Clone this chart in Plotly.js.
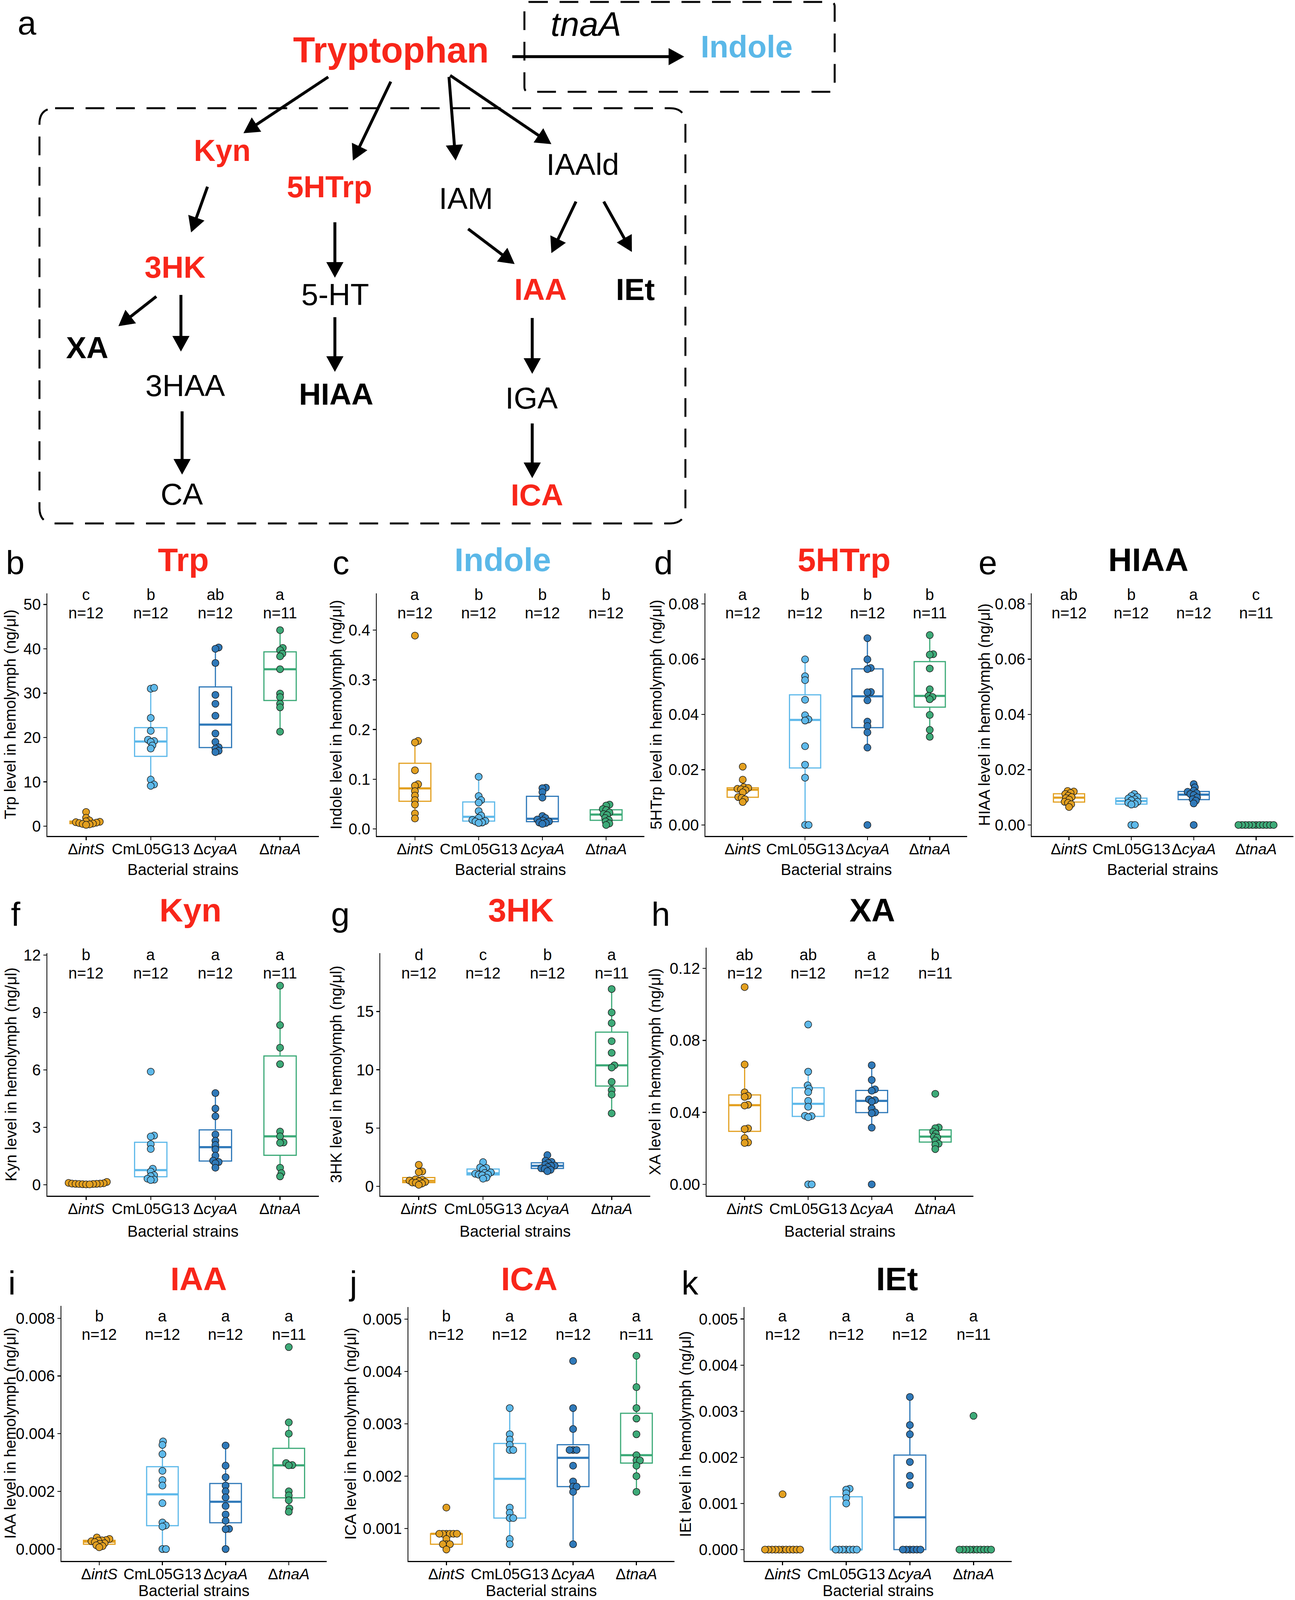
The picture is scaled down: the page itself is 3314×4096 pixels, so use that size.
<!DOCTYPE html>
<html><head><meta charset="utf-8">
<script src="https://cdn.plot.ly/plotly-3.0.1.min.js"></script>
<style>html,body{margin:0;padding:0;background:#fff}#chart{width:3314px;height:4096px}</style>
</head><body><div id="chart"></div>
<script>
// ---------------- DATA ----------------
const strainTicks = ['Δ<i>intS</i>', 'CmL05G13', 'Δ<i>cyaA</i>', 'Δ<i>tnaA</i>'];

// each metabolite: [ΔintS, CmL05G13, ΔcyaA, ΔtnaA]
const trp = [
  [3.2, 1.9, 1.3, 1.1, 1.0, 0.9, 0.8, 0.7, 0.6, 0.5, 0.4, 0.3],
  [31.0, 31.2, 24.4, 21.5, 19.5, 19.2, 19.0, 18.2, 17.5, 10.5, 9.4, 9.1],
  [40.3, 40.0, 36.8, 29.6, 27.6, 24.9, 20.9, 19.0, 17.8, 17.5, 17.0, 16.7],
  [44.2, 40.2, 39.7, 38.9, 38.3, 35.4, 29.9, 29.1, 27.6, 26.8, 21.3]
];
const trpLetters = ['c', 'b', 'ab', 'a'];

const indole = [
  [0.389, 0.177, 0.174, 0.118, 0.090, 0.087, 0.076, 0.067, 0.058, 0.049, 0.031, 0.021],
  [0.105, 0.066, 0.058, 0.053, 0.036, 0.027, 0.022, 0.018, 0.016, 0.015, 0.013, 0.012],
  [0.083, 0.082, 0.074, 0.063, 0.026, 0.022, 0.019, 0.017, 0.015, 0.013, 0.012, 0.010],
  [0.049, 0.047, 0.040, 0.038, 0.033, 0.030, 0.028, 0.022, 0.018, 0.015, 0.011, 0.008]
];
const indoleLetters = ['a', 'b', 'b', 'b'];

const htrp = [
  [0.0211, 0.0164, 0.0137, 0.0134, 0.0131, 0.0129, 0.0126, 0.0118, 0.0101, 0.0098, 0.0093, 0.0083],
  [0.0599, 0.0538, 0.0524, 0.0453, 0.0397, 0.0382, 0.0378, 0.0285, 0.0218, 0.0171, 0, 0],
  [0.0676, 0.0599, 0.0568, 0.0564, 0.0481, 0.0480, 0.0451, 0.0374, 0.0358, 0.0335, 0.0280, 0],
  [0.0687, 0.0618, 0.0616, 0.0566, 0.0491, 0.0467, 0.0463, 0.0455, 0.0398, 0.0344, 0.0319]
];
const htrpLetters = ['a', 'b', 'b', 'b'];

const hiaa = [
  [0.0123, 0.0121, 0.0116, 0.0112, 0.0106, 0.0101, 0.0097, 0.0092, 0.0084, 0.0080, 0.0075, 0.0065],
  [0.0112, 0.0105, 0.0101, 0.0096, 0.0093, 0.0089, 0.0084, 0.0080, 0.0076, 0.0074, 0, 0],
  [0.0148, 0.0136, 0.0124, 0.0120, 0.0115, 0.0112, 0.0108, 0.0100, 0.0093, 0.0088, 0.0078, 0],
  [0, 0, 0, 0, 0, 0, 0, 0, 0, 0, 0]
];
const hiaaLetters = ['ab', 'b', 'a', 'c'];

const kyn = [
  [0.15, 0.10, 0.08, 0.06, 0.06, 0.05, 0.05, 0.04, 0.04, 0.03, 0.02, 0.02],
  [5.91, 2.57, 2.52, 2.12, 1.87, 0.84, 0.69, 0.50, 0.45, 0.32, 0.27, 0.25],
  [4.79, 3.98, 3.58, 2.63, 2.30, 2.08, 1.85, 1.52, 1.26, 1.19, 1.12, 0.89],
  [10.4, 8.34, 7.16, 6.30, 2.78, 2.53, 2.21, 2.19, 0.89, 0.61, 0.44]
];
const kynLetters = ['b', 'a', 'a', 'a'];

const hk = [
  [1.85, 1.28, 1.22, 0.60, 0.56, 0.50, 0.44, 0.38, 0.33, 0.30, 0.25, 0.13],
  [2.08, 1.62, 1.58, 1.45, 1.20, 1.15, 1.08, 1.02, 1.00, 0.95, 0.75, 0.66],
  [2.68, 2.20, 2.10, 2.00, 1.85, 1.78, 1.75, 1.65, 1.55, 1.50, 1.42, 1.30],
  [16.92, 14.91, 14.0, 12.45, 11.45, 10.38, 10.19, 8.96, 8.25, 7.87, 6.26]
];
const hkLetters = ['d', 'c', 'b', 'a'];

const xa = [
  [0.1096, 0.0666, 0.0511, 0.0492, 0.0486, 0.0442, 0.0438, 0.0311, 0.0307, 0.0257, 0.0233, 0.0230],
  [0.0888, 0.0626, 0.0550, 0.0532, 0.0513, 0.0464, 0.0431, 0.0381, 0.0379, 0.0373, 0, 0],
  [0.0662, 0.0580, 0.0528, 0.0520, 0.0472, 0.0468, 0.0460, 0.0422, 0.0400, 0.0395, 0.0315, 0],
  [0.0503, 0.0316, 0.0312, 0.0293, 0.0281, 0.0265, 0.0260, 0.0244, 0.0226, 0.0220, 0.0196]
];
const xaLetters = ['ab', 'ab', 'a', 'b'];

const iaa = [
  [0.00040, 0.00035, 0.00031, 0.00030, 0.00029, 0.00027, 0.00024, 0.00020, 0.00018, 0.00013, 0.00010, 0.00006],
  [0.00373, 0.00361, 0.00329, 0.00271, 0.00239, 0.00220, 0.00159, 0.00092, 0.00082, 0.00078, 0, 0],
  [0.00359, 0.00289, 0.00249, 0.00220, 0.00200, 0.00179, 0.00149, 0.00120, 0.00098, 0.00070, 0.00069, 0],
  [0.00700, 0.00439, 0.00400, 0.00298, 0.00291, 0.00290, 0.00200, 0.00186, 0.00169, 0.00141, 0.00129]
];
const iaaLetters = ['b', 'a', 'a', 'a'];

const ica = [
  [0.0014, 0.0009, 0.0009, 0.0009, 0.0009, 0.0009, 0.0009, 0.0008, 0.0007, 0.0007, 0.0007, 0.0006],
  [0.0033, 0.0028, 0.0027, 0.0026, 0.0025, 0.0025, 0.0014, 0.0013, 0.0012, 0.0012, 0.0008, 0.0007],
  [0.0042, 0.0033, 0.0029, 0.0025, 0.0025, 0.0025, 0.0022, 0.0019, 0.0018, 0.0018, 0.0017, 0.0007],
  [0.0043, 0.0037, 0.0033, 0.0031, 0.0028, 0.0024, 0.0023, 0.0023, 0.0022, 0.0020, 0.0017]
];
const icaLetters = ['b', 'a', 'a', 'a'];

const iet = [
  [0.0012, 0, 0, 0, 0, 0, 0, 0, 0, 0, 0, 0],
  [0.00132, 0.00130, 0.00122, 0.00112, 0.00100, 0, 0, 0, 0, 0, 0, 0],
  [0.00331, 0.00270, 0.00250, 0.00190, 0.00160, 0.00140, 0, 0, 0, 0, 0, 0],
  [0.0029, 0, 0, 0, 0, 0, 0, 0, 0, 0, 0]
];
const ietLetters = ['a', 'a', 'a', 'a'];

// ---------------- STYLE / LAYOUT ----------------
const W = 3314, H = 4096;
const FONT = 'Liberation Sans, Arial, Helvetica, sans-serif';
const RED = '#F8261A', SKY = '#5BB8E8';
const COLORS = ['#E3A020', '#5EB9EA', '#2F79B9', '#3DAA78'];
const X = px => px / W;
const Y = py => 1 - py / H;

const rows = {
  r1: {yBot: 2140, letterBase: 1470, titleBase: 1462, xTitleY: 2226},
  r2: {yBot: 3061, letterBase: 2370, titleBase: 2359, xTitleY: 3152},
  r3: {yBot: 3996, letterBase: 3314, titleBase: 3303, xTitleY: 4072}
};

const panels = [
  {L:'b', title:'Trp', tc:RED, data:trp, sig:trpLetters, yt:'Trp level in hemolymph (ng/μl)', row:'r1', x0:121, x1:816, yTop:1519, yr:[-2.2,52.5], tv:[0,10,20,30,40,50], fmt:'', lx:39, tx:470, ytx:25, sigY:1522, nY:1569},
  {L:'c', title:'Indole', tc:SKY, data:indole, sig:indoleLetters, yt:'Indole level in hemolymph (ng/μl)', row:'r1', x0:964, x1:1649, yTop:1519, yr:[-0.0141,0.474], tv:[0,0.1,0.2,0.3,0.4], fmt:'.1f', lx:872, tx:1286, ytx:859, sigY:1522, nY:1569},
  {L:'d', title:'5HTrp', tc:RED, data:htrp, sig:htrpLetters, yt:'5HTrp level in hemolymph (ng/μl)', row:'r1', x0:1805, x1:2475, yTop:1519, yr:[-0.00396,0.0838], tv:[0,0.02,0.04,0.06,0.08], fmt:'.2f', lx:1698, tx:2160, ytx:1678, sigY:1522, nY:1569},
  {L:'e', title:'HIAA', tc:'#000', data:hiaa, sig:hiaaLetters, yt:'HIAA level in hemolymph (ng/μl)', row:'r1', x0:2640, x1:3310, yTop:1519, yr:[-0.00396,0.0838], tv:[0,0.02,0.04,0.06,0.08], fmt:'.2f', lx:2528, tx:2938, ytx:2518, sigY:1522, nY:1569},
  {L:'f', title:'Kyn', tc:RED, data:kyn, sig:kynLetters, yt:'Kyn level in hemolymph (ng/μl)', row:'r2', x0:121, x1:816, yTop:2440, yr:[-0.57,12.1], tv:[0,3,6,9,12], fmt:'', lx:40, tx:487, ytx:27, sigY:2444, nY:2491},
  {L:'g', title:'3HK', tc:RED, data:hk, sig:hkLetters, yt:'3HK level in hemolymph (ng/μl)', row:'r2', x0:973, x1:1664, yTop:2440, yr:[-0.8,20.0], tv:[0,5,10,15], fmt:'', lx:871, tx:1333, ytx:859, sigY:2444, nY:2491},
  {L:'h', title:'XA', tc:'#000', data:xa, sig:xaLetters, yt:'XA level in hemolymph (ng/μl)', row:'r2', x0:1808, x1:2491, yTop:2426, yr:[-0.0063,0.1315], tv:[0,0.04,0.08,0.12], fmt:'.2f', lx:1691, tx:2232, ytx:1675, sigY:2444, nY:2491},
  {L:'i', title:'IAA', tc:RED, data:iaa, sig:iaaLetters, yt:'IAA level in hemolymph (ng/μl)', row:'r3', x0:157, x1:836, yTop:3343, yr:[-0.000413,0.00843], tv:[0,0.002,0.004,0.006,0.008], fmt:'.3f', lx:31, tx:508, ytx:25, sigY:3369, nY:3416},
  {L:'j', title:'ICA', tc:RED, data:ica, sig:icaLetters, yt:'ICA level in hemolymph (ng/μl)', row:'r3', x0:1045, x1:1726, yTop:3346, yr:[0.000381,0.00523], tv:[0.001,0.002,0.003,0.004,0.005], fmt:'.3f', lx:903, tx:1354, ytx:897, sigY:3369, nY:3416},
  {L:'k', title:'IEt', tc:'#000', data:iet, sig:ietLetters, yt:'IEt level in hemolymph (ng/μl)', row:'r3', x0:1905, x1:2589, yTop:3346, yr:[-0.000246,0.00526], tv:[0,0.001,0.002,0.003,0.004,0.005], fmt:'.3f', lx:1766, tx:2295, ytx:1754, sigY:3369, nY:3416}
];

// ---------------- helpers ----------------
function quant(sorted, p) {
  const h = (sorted.length - 1) * p, lo = Math.floor(h), hi = Math.ceil(h);
  return sorted[lo] + (h - lo) * (sorted[hi] - sorted[lo]);
}
function boxStats(vals) {
  const s = vals.slice().sort((a, b) => a - b);
  const q1 = quant(s, 0.25), med = quant(s, 0.5), q3 = quant(s, 0.75), iqr = q3 - q1;
  const lf = Math.min(...s.filter(v => v >= q1 - 1.5 * iqr));
  const uf = Math.max(...s.filter(v => v <= q3 + 1.5 * iqr));
  return {q1, med, q3, lf: Math.min(lf, q1), uf: Math.max(uf, q3)};
}
function swarm(vals, pxPerY, d) {
  const idx = vals.map((v, i) => i).sort((a, b) => vals[a] - vals[b]);
  const placed = [], off = new Array(vals.length);
  for (const i of idx) {
    const y = vals[i] * pxPerY;
    const cands = [0];
    for (const p of placed) {
      const dy = Math.abs(p.y - y);
      if (dy < d) { const dx = Math.sqrt(d * d - dy * dy); cands.push(p.x + dx, p.x - dx); }
    }
    cands.sort((a, b) => Math.abs(a) - Math.abs(b) || b - a);
    let chosen = 0;
    for (const c of cands) {
      let ok = true;
      for (const p of placed) { if (Math.hypot(p.x - c, p.y - y) < d - 1e-6) { ok = false; break; } }
      if (ok) { chosen = c; break; }
    }
    placed.push({x: chosen, y}); off[i] = chosen;
  }
  return off;
}

const traces = [], annotations = [], shapes = [];
const layout = {
  width: W, height: H, margin: {l: 0, r: 0, t: 0, b: 0},
  paper_bgcolor: '#fff', plot_bgcolor: 'rgba(0,0,0,0)', showlegend: false,
  font: {family: FONT, color: '#000'}
};
function ann(o) { annotations.push(Object.assign({showarrow: false, xref: 'paper', yref: 'paper', xanchor: 'center', yanchor: 'middle'}, o)); }

panels.forEach((P, k) => {
  const n = k + 1, suf = n === 1 ? '' : String(n);
  const xref = 'x' + suf, yref = 'y' + suf;
  const R = rows[P.row];
  const yBot = R.yBot;
  layout['xaxis' + suf] = {
    domain: [X(P.x0), X(P.x1)], anchor: yref, range: [-0.6, 3.6],
    tickvals: [0, 1, 2, 3], ticktext: strainTicks, tickangle: 0, ticklabelstandoff: -10,
    ticks: 'outside', ticklen: 8, tickwidth: 2.5, tickcolor: '#000',
    showline: true, linecolor: '#000', linewidth: 2.5, showgrid: false, zeroline: false,
    tickfont: {size: 39, family: FONT, color: '#000'}, fixedrange: true
  };
  layout['yaxis' + suf] = {
    domain: [Y(yBot), Y(P.yTop)], anchor: xref, range: P.yr,
    tickvals: P.tv, tickformat: P.fmt, ticklabelstandoff: -2,
    ticks: 'outside', ticklen: 8, tickwidth: 2.5, tickcolor: '#000',
    showline: true, linecolor: '#000', linewidth: 2.5, showgrid: false, zeroline: false,
    tickfont: {size: 40, family: FONT, color: '#000'}, fixedrange: true
  };
  const pxPerX = (P.x1 - P.x0) / 4.2;
  const pxPerY = (yBot - P.yTop) / (P.yr[1] - P.yr[0]);
  P.data.forEach((vals, g) => {
    const s = boxStats(vals);
    traces.push({type: 'box', x: [g], q1: [s.q1], median: [s.med], q3: [s.q3], lowerfence: [s.lf], upperfence: [s.uf],
      width: 0.5, whiskerwidth: 0, boxpoints: false, line: {color: COLORS[g], width: 3}, fillcolor: 'rgba(255,255,255,0)',
      xaxis: xref, yaxis: yref, hoverinfo: 'skip'});
    traces.push({type: 'scatter', mode: 'lines', x: [g - 0.25, g + 0.25], y: [s.med, s.med],
      line: {color: COLORS[g], width: 5.5}, xaxis: xref, yaxis: yref, hoverinfo: 'skip', cliponaxis: false});
  });
  P.data.forEach((vals, g) => {
    const off = swarm(vals, pxPerY, 9);
    traces.push({type: 'scatter', mode: 'markers', x: vals.map((v, i) => g + off[i] / pxPerX), y: vals,
      marker: {size: 18, color: COLORS[g], line: {color: '#1a1a1a', width: 1.5}}, xaxis: xref, yaxis: yref,
      hoverinfo: 'skip', cliponaxis: false});
    ann({xref: xref, x: g, y: Y(P.sigY), text: P.sig[g], font: {size: 40, family: FONT, color: '#000'}});
    ann({xref: xref, x: g, y: Y(P.nY), text: 'n=' + vals.length, font: {size: 40, family: FONT, color: '#000'}});
  });
  // panel letter, title, axis titles
  ann({x: X(P.lx), y: Y(R.letterBase - 0.35 * 86), text: P.L, font: {size: 86, family: FONT, color: '#000'}});
  ann({x: X(P.tx), y: Y(R.titleBase - 0.35 * 84), text: '<b>' + P.title + '</b>', font: {size: 84, family: FONT, color: P.tc}});
  ann({x: X(P.ytx), y: Y((P.yTop + yBot) / 2), text: P.yt, textangle: -90, font: {size: 40, family: FONT, color: '#000'}});
  ann({x: X((P.x0 + P.x1) / 2), y: Y(R.xTitleY), text: 'Bacterial strains', font: {size: 40, family: FONT, color: '#000'}});
});

// ---------------- panel a: pathway diagram ----------------
const diagLabels = [
  // text, x, baseline, color, size, style
  ['a', 69, 88, '#000', 86, ''],
  ['Tryptophan', 1000, 160, RED, 92, 'b'],
  ['tnaA', 1499, 92, '#000', 88, 'i'],
  ['Indole', 1911, 147, SKY, 80, 'b'],
  ['Kyn', 568, 412, RED, 77, 'b'],
  ['5HTrp', 843, 505, RED, 77, 'b'],
  ['IAM', 1192, 535, '#000', 78, ''],
  ['IAAld', 1491, 448, '#000', 78, ''],
  ['3HK', 448, 711, RED, 78, 'b'],
  ['5-HT', 857, 781, '#000', 78, ''],
  ['IAA', 1383, 768, RED, 78, 'b'],
  ['IEt', 1626, 768, '#000', 78, 'b'],
  ['XA', 223, 917, '#000', 78, 'b'],
  ['3HAA', 474, 1014, '#000', 78, ''],
  ['HIAA', 861, 1036, '#000', 78, 'b'],
  ['IGA', 1360, 1046, '#000', 78, ''],
  ['CA', 465, 1292, '#000', 78, ''],
  ['ICA', 1374, 1294, RED, 78, 'b']
];
diagLabels.forEach(([t, x, base, c, sz, st]) => {
  const txt = st === 'b' ? '<b>' + t + '</b>' : st === 'i' ? '<i>' + t + '</i>' : t;
  ann({x: X(x), y: Y(base - 0.35 * sz), text: txt, font: {size: sz, family: FONT, color: c}});
});

const diagArrows = [
  [1311, 145, 1751, 145],
  [840, 197, 623, 341],
  [1000, 209, 903, 411],
  [1149, 197, 1166, 411],
  [1152, 193, 1411, 369],
  [531, 478, 489, 595],
  [400, 759, 303, 835],
  [463, 755, 463, 900],
  [466, 1053, 466, 1215],
  [857, 569, 857, 711],
  [857, 812, 857, 952],
  [1198, 586, 1317, 676],
  [1474, 516, 1411, 648],
  [1545, 516, 1617, 645],
  [1362, 814, 1362, 957],
  [1362, 1084, 1362, 1224]
];
function arrow(x1, y1, x2, y2) {
  const Lh = 40, Wh = 44;
  const dx = x2 - x1, dy = y2 - y1, len = Math.hypot(dx, dy);
  const ux = dx / len, uy = dy / len, nx = -uy, ny = ux;
  const bx = x2 - ux * Lh, by = y2 - uy * Lh;
  shapes.push({type: 'line', xref: 'paper', yref: 'paper', x0: X(x1), y0: Y(y1), x1: X(bx + ux * 3), y1: Y(by + uy * 3),
    line: {color: '#000', width: 7.5}});
  shapes.push({type: 'path', xref: 'paper', yref: 'paper', fillcolor: '#000', line: {width: 0},
    path: `M ${X(x2)} ${Y(y2)} L ${X(bx + nx * Wh / 2)} ${Y(by + ny * Wh / 2)} L ${X(bx - nx * Wh / 2)} ${Y(by - ny * Wh / 2)} Z`});
}
diagArrows.forEach(a => arrow(...a));

function rrect(x0, y0, x1, y1, r) {
  const p = (x, y) => `${X(x)} ${Y(y)}`;
  const path = `M ${p(x0 + r, y0)} L ${p(x1 - r, y0)} Q ${p(x1, y0)} ${p(x1, y0 + r)} L ${p(x1, y1 - r)} Q ${p(x1, y1)} ${p(x1 - r, y1)} ` +
    `L ${p(x0 + r, y1)} Q ${p(x0, y1)} ${p(x0, y1 - r)} L ${p(x0, y0 + r)} Q ${p(x0, y0)} ${p(x0 + r, y0)} Z`;
  shapes.push({type: 'path', xref: 'paper', yref: 'paper', path, line: {color: '#000', width: 5, dash: '48px,30px'}, fillcolor: 'rgba(0,0,0,0)'});
}
rrect(1342, 5, 2136, 235, 12);
rrect(101, 277, 1754, 1340, 40);

layout.annotations = annotations;
layout.shapes = shapes;
Plotly.newPlot('chart', traces, layout, {staticPlot: true, displayModeBar: false});
</script>
</body></html>
